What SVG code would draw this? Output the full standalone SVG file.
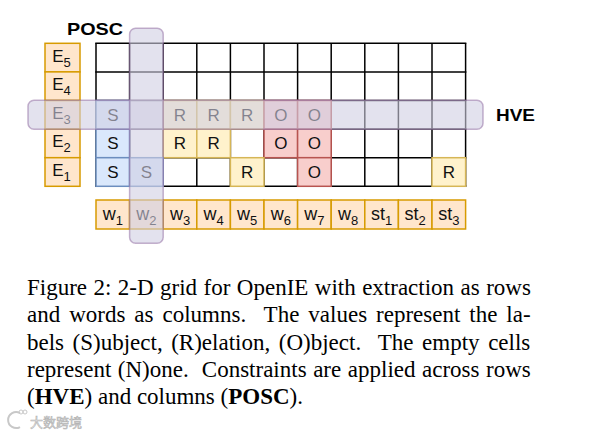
<svg xmlns="http://www.w3.org/2000/svg" width="604" height="434" viewBox="0 0 604 434">
<style>
.t{font-family:"Liberation Sans",Arial,sans-serif;fill:#111;text-anchor:middle}
.c{font-size:17px}
.e{font-size:17px}
.w{font-size:18px}
.sub{font-size:13px}
.lbl{font-family:"Liberation Sans",Arial,sans-serif;font-weight:bold;font-size:16.5px;fill:#000}
.grid line{stroke:#000;stroke-width:1.5}
.S{fill:#dae8fc;stroke:#6c8ebf;stroke-width:1.5}
.R{fill:#fff2cc;stroke:#d6b656;stroke-width:1.5}
.O{fill:#f8cecc;stroke:#b85450;stroke-width:1.5}
.L{fill:#ffe6cc;stroke:#d79b00;stroke-width:1.5}
.ov{fill:#d0cee2;fill-opacity:0.6;stroke:#9673a6;stroke-opacity:0.55;stroke-width:1.5}
.cap{font-family:"Liberation Serif","Times New Roman",serif;font-size:23px;fill:#000}
.pre{white-space:pre}
</style>
<rect width="604" height="434" fill="#fff"/>

<g id="grid" class="grid">
<line x1="96" y1="43.3" x2="96" y2="186.3"/>
<line x1="129.6" y1="43.3" x2="129.6" y2="186.3"/>
<line x1="163.2" y1="43.3" x2="163.2" y2="186.3"/>
<line x1="196.8" y1="43.3" x2="196.8" y2="186.3"/>
<line x1="230.4" y1="43.3" x2="230.4" y2="186.3"/>
<line x1="264" y1="43.3" x2="264" y2="186.3"/>
<line x1="297.6" y1="43.3" x2="297.6" y2="186.3"/>
<line x1="331.2" y1="43.3" x2="331.2" y2="186.3"/>
<line x1="364.8" y1="43.3" x2="364.8" y2="186.3"/>
<line x1="398.4" y1="43.3" x2="398.4" y2="186.3"/>
<line x1="432" y1="43.3" x2="432" y2="186.3"/>
<line x1="465.6" y1="43.3" x2="465.6" y2="186.3"/>
<line x1="95.25" y1="43.3" x2="466.35" y2="43.3"/>
<line x1="95.25" y1="71.9" x2="466.35" y2="71.9"/>
<line x1="95.25" y1="100.5" x2="466.35" y2="100.5"/>
<line x1="95.25" y1="129.1" x2="466.35" y2="129.1"/>
<line x1="95.25" y1="157.7" x2="466.35" y2="157.7"/>
<line x1="95.25" y1="186.3" x2="466.35" y2="186.3"/>
</g>

<g id="cells">
<rect class="S" x="96" y="100.5" width="33.6" height="28.6"/>
<rect class="R" x="163.2" y="100.5" width="33.6" height="28.6"/>
<rect class="R" x="196.8" y="100.5" width="33.6" height="28.6"/>
<rect class="R" x="230.4" y="100.5" width="33.6" height="28.6"/>
<rect class="O" x="264" y="100.5" width="33.6" height="28.6"/>
<rect class="O" x="297.6" y="100.5" width="33.6" height="28.6"/>

<rect class="S" x="96" y="129.1" width="33.6" height="28.6"/>
<rect class="R" x="163.2" y="129.1" width="33.6" height="28.6"/>
<rect class="R" x="196.8" y="129.1" width="33.6" height="28.6"/>
<rect class="O" x="264" y="129.1" width="33.6" height="28.6"/>
<rect class="O" x="297.6" y="129.1" width="33.6" height="28.6"/>

<rect class="S" x="96" y="157.7" width="33.6" height="28.6"/>
<rect class="S" x="129.6" y="157.7" width="33.6" height="28.6"/>
<rect class="R" x="230.4" y="157.7" width="33.6" height="28.6"/>
<rect class="O" x="297.6" y="157.7" width="33.6" height="28.6"/>
<rect class="R" x="432" y="157.7" width="33.6" height="28.6"/>

<g class="t c">
<text x="112.8" y="120.8">S</text>
<text x="180" y="120.8">R</text>
<text x="213.6" y="120.8">R</text>
<text x="247.2" y="120.8">R</text>
<text x="280.8" y="120.8">O</text>
<text x="314.4" y="120.8">O</text>
<text x="112.8" y="149.4">S</text>
<text x="180" y="149.4">R</text>
<text x="213.6" y="149.4">R</text>
<text x="280.8" y="149.4">O</text>
<text x="314.4" y="149.4">O</text>
<text x="112.8" y="178">S</text>
<text x="146.4" y="178">S</text>
<text x="247.2" y="178">R</text>
<text x="314.4" y="178">O</text>
<text x="448.8" y="178">R</text>
</g>
</g>

<g id="extractions">
<rect class="L" x="45" y="43.3" width="35" height="28.6"/>
<rect class="L" x="45" y="71.9" width="35" height="28.6"/>
<rect class="L" x="45" y="100.5" width="35" height="28.6"/>
<rect class="L" x="45" y="129.1" width="35" height="28.6"/>
<rect class="L" x="45" y="157.7" width="35" height="28.6"/>
<g class="t e">
<text x="61.5" y="61.5">E<tspan class="sub" dy="5">5</tspan></text>
<text x="61.5" y="90.1">E<tspan class="sub" dy="5">4</tspan></text>
<text x="61.5" y="118.7">E<tspan class="sub" dy="5">3</tspan></text>
<text x="61.5" y="147.3">E<tspan class="sub" dy="5">2</tspan></text>
<text x="61.5" y="175.9">E<tspan class="sub" dy="5">1</tspan></text>
</g>
</g>

<g id="words">
<rect class="L" x="96" y="200" width="33.6" height="29"/>
<rect class="L" x="129.6" y="200" width="33.6" height="29"/>
<rect class="L" x="163.2" y="200" width="33.6" height="29"/>
<rect class="L" x="196.8" y="200" width="33.6" height="29"/>
<rect class="L" x="230.4" y="200" width="33.6" height="29"/>
<rect class="L" x="264" y="200" width="33.6" height="29"/>
<rect class="L" x="297.6" y="200" width="33.6" height="29"/>
<rect class="L" x="331.2" y="200" width="33.6" height="29"/>
<rect class="L" x="364.8" y="200" width="33.6" height="29"/>
<rect class="L" x="398.4" y="200" width="33.6" height="29"/>
<rect class="L" x="432" y="200" width="33.6" height="29"/>
<g class="t w">
<text x="112.8" y="220">w<tspan class="sub" dy="5">1</tspan></text>
<text x="146.4" y="220">w<tspan class="sub" dy="5">2</tspan></text>
<text x="180" y="220">w<tspan class="sub" dy="5">3</tspan></text>
<text x="213.6" y="220">w<tspan class="sub" dy="5">4</tspan></text>
<text x="247.2" y="220">w<tspan class="sub" dy="5">5</tspan></text>
<text x="280.8" y="220">w<tspan class="sub" dy="5">6</tspan></text>
<text x="314.4" y="220">w<tspan class="sub" dy="5">7</tspan></text>
<text x="348" y="220">w<tspan class="sub" dy="5">8</tspan></text>
<text x="381.6" y="220">st<tspan class="sub" dy="5">1</tspan></text>
<text x="415.2" y="220">st<tspan class="sub" dy="5">2</tspan></text>
<text x="448.8" y="220">st<tspan class="sub" dy="5">3</tspan></text>
</g>
</g>

<g id="HVE">
<rect class="ov" x="28" y="100.3" width="455" height="29" rx="6"/>
<text class="lbl" x="496" y="121" textLength="39" lengthAdjust="spacingAndGlyphs">HVE</text>
</g>
<g id="POSC">
<rect class="ov" x="129.6" y="28.3" width="33.6" height="215" rx="6"/>
<text class="lbl" x="67" y="35" textLength="56" lengthAdjust="spacingAndGlyphs">POSC</text>
</g>

<g id="caption" class="cap">
<text x="27" y="294.5" style="word-spacing:0.7px">Figure 2: 2-D grid for OpenIE with extraction as rows</text>
<text class="pre" x="27" y="322" style="word-spacing:3.2px">and words as columns.  The values represent the la-</text>
<text class="pre" x="27" y="349.5" style="word-spacing:2.8px">bels (S)ubject, (R)elation, (O)bject.  The empty cells</text>
<text class="pre" x="27" y="377" style="word-spacing:0.8px">represent (N)one.  Constraints are applied across rows</text>
<text x="27" y="404">(<tspan font-weight="bold">HVE</tspan>) and columns (<tspan font-weight="bold">POSC</tspan>).</text>
</g>

<g id="watermark">
<path d="M20 413 A8 8 0 1 0 20 427" fill="none" stroke="#c8c8c8" stroke-width="2"/>
<circle cx="21" cy="412" r="2" fill="none" stroke="#c8c8c8" stroke-width="1"/>
<circle cx="25" cy="412" r="2" fill="none" stroke="#c8c8c8" stroke-width="1"/>
<text x="30" y="427" font-family="Noto Sans CJK SC, sans-serif" font-size="13" fill="#e6e6e6" stroke="#b4b4b4" stroke-width="0.6">大数跨境</text>
</g>
</svg>
